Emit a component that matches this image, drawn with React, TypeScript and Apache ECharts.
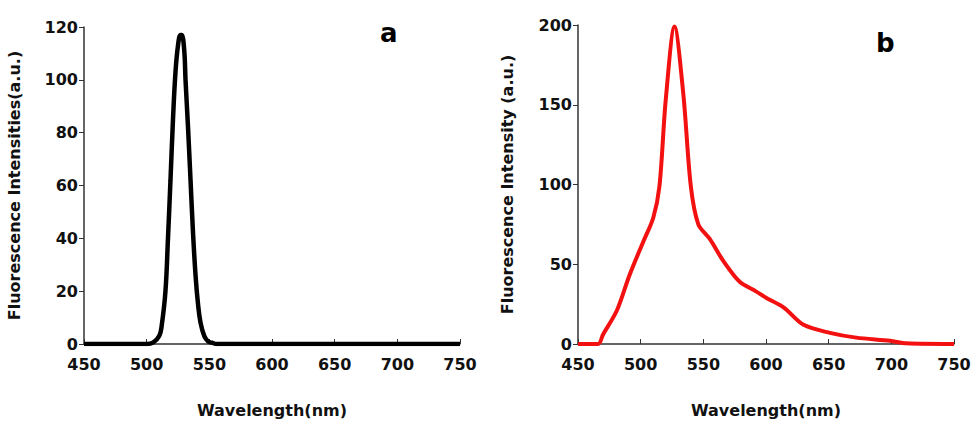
import * as echarts from "echarts";
import { useEffect, useRef } from "react";

// panel a: wavelength (nm), intensity
const waveA = [450, 500, 505, 510, 512, 515, 517, 519, 521, 523, 525, 527, 528, 530, 531, 533, 535, 537, 539, 541, 543, 546, 549, 552, 556, 560, 600, 650, 700, 750];
const intensityA = [0, 0, 0.5, 3, 7, 20, 40, 62, 85, 103, 113, 117, 117, 111, 100, 82, 62, 42, 26, 15, 8, 3, 1, 0.5, 0, 0, 0, 0, 0, 0];

// panel b
const waveB = [450, 466, 470, 481, 491, 502, 510, 515, 520, 527, 534, 540, 546, 555, 566, 579, 592, 600, 614, 630, 651, 672, 699, 712, 750];
const intensityB = [0, 0, 6, 21, 43, 64, 79, 99, 153, 199, 157, 99, 75, 66, 52, 39, 33, 29, 23, 12, 7, 4, 2, 0.4, 0];

const font = "DejaVu Sans, Arial, sans-serif";
const axisLine = { lineStyle: { color: "#333", width: 1.5 } };
const tickLabel = { color: "#111", fontSize: 16, fontWeight: "bold" as const, fontFamily: font };
const nameStyle = { color: "#111", fontSize: 16, fontWeight: "bold" as const, fontFamily: font };

const pairs = (xs: number[], ys: number[]) => xs.map((x, i) => [x, ys[i]]);

const xAxisBase = (gridIndex: number) => ({
  type: "value" as const,
  gridIndex,
  min: 450,
  max: 750,
  interval: 50,
  name: "Wavelength(nm)",
  nameLocation: "middle" as const,
  nameGap: 58,
  nameTextStyle: nameStyle,
  axisLine,
  axisTick: { inside: true, length: 5, lineStyle: { color: "#333" } },
  axisLabel: { ...tickLabel, margin: 12 },
  splitLine: { show: false },
});

const option: echarts.EChartsOption = {
  animation: false,
  backgroundColor: "#fff",
  grid: [
    { left: 84, top: 27, right: 519, bottom: 74 },
    { left: 578, top: 25, right: 25, bottom: 76 },
  ],
  xAxis: [xAxisBase(0), xAxisBase(1)],
  yAxis: [
    {
      type: "value",
      gridIndex: 0,
      min: 0,
      max: 120,
      interval: 20,
      name: "Fluorescence Intensities(a.u.)",
      nameLocation: "middle",
      nameGap: 62,
      nameTextStyle: nameStyle,
      axisLine: { show: true, ...axisLine },
      axisTick: { show: true, length: 5, lineStyle: { color: "#333" } },
      axisLabel: { ...tickLabel, margin: 6 },
      splitLine: { show: false },
    },
    {
      type: "value",
      gridIndex: 1,
      min: 0,
      max: 200,
      interval: 50,
      name: "Fluorescence Intensity (a.u.)",
      nameLocation: "middle",
      nameGap: 63,
      nameTextStyle: nameStyle,
      axisLine: { show: true, ...axisLine },
      axisTick: { show: true, length: 5, lineStyle: { color: "#333" } },
      axisLabel: { ...tickLabel, margin: 6 },
      splitLine: { show: false },
    },
  ],
  graphic: [
    { type: "text", left: 380, top: 20, style: { text: "a", fontSize: 26, fontWeight: "bold", fontFamily: font, fill: "#000" } },
    { type: "text", left: 876, top: 30, style: { text: "b", fontSize: 26, fontWeight: "bold", fontFamily: font, fill: "#000" } },
  ],
  series: [
    {
      type: "line",
      xAxisIndex: 0,
      yAxisIndex: 0,
      data: pairs(waveA, intensityA),
      smooth: 0.4,
      showSymbol: false,
      lineStyle: { color: "#000", width: 4.5 },
    },
    {
      type: "line",
      xAxisIndex: 1,
      yAxisIndex: 1,
      data: pairs(waveB, intensityB),
      smooth: 0.3,
      showSymbol: false,
      lineStyle: { color: "#f21010", width: 4 },
    },
  ],
};

export default function App() {
  const ref = useRef<HTMLDivElement>(null);
  useEffect(() => {
    const chart = echarts.init(ref.current!, undefined, { renderer: "svg" });
    chart.setOption(option);
    return () => chart.dispose();
  }, []);
  return <div ref={ref} style={{ position: "fixed", left: 0, top: 0, width: 979, height: 423 }} />;
}
